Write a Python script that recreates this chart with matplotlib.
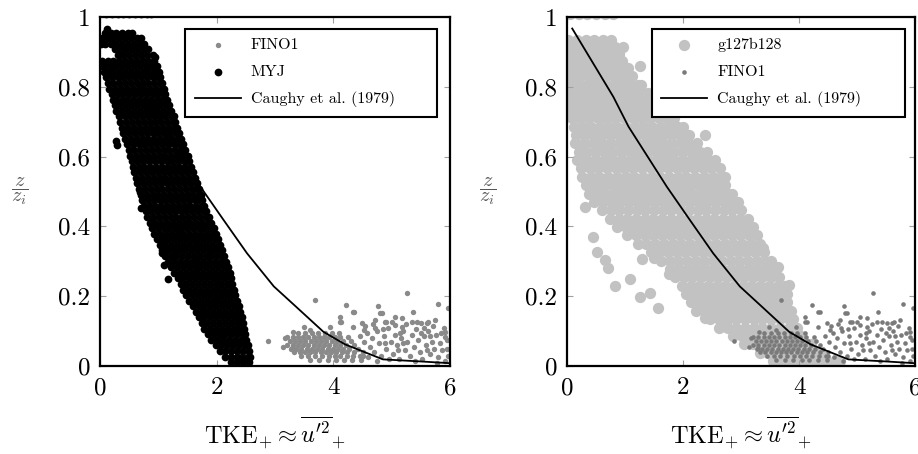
import matplotlib
matplotlib.use("Agg")
import matplotlib.pyplot as plt

# ---------------- data ----------------
x_ticks = [0, 2, 4, 6]
x_tick_labels = ["0", "2", "4", "6"]
y_ticks = [0, 0.2, 0.4, 0.6, 0.8, 1.0]
y_tick_labels = ["0", "0.2", "0.4", "0.6", "0.8", "1"]

# Caughy et al. (1979) reference profile
caughy_x = [0.09, 0.80, 1.06, 1.72, 2.12, 2.52, 2.98, 3.36, 3.83, 4.20, 4.85, 5.50, 6.00]
caughy_y = [0.967, 0.771, 0.686, 0.514, 0.418, 0.323, 0.228, 0.170, 0.098, 0.062, 0.019, 0.013, 0.008]

# FINO1 measurements: dense core (rows of equal height) + scattered points
fino1_core_rows = [
    (0.094, [3.40, 3.52, 3.63, 3.74, 3.86, 3.97, 4.10]),
    (0.083, [3.20, 3.30, 3.39, 3.48, 3.57, 3.66, 3.75, 3.84, 3.93, 4.02, 4.12, 4.25]),
    (0.072, [3.25, 3.34, 3.43, 3.52, 3.61, 3.70, 3.79, 3.88, 3.97, 4.06, 4.16, 4.30]),
    (0.061, [3.21, 3.30, 3.39, 3.48, 3.57, 3.66, 3.75, 3.84, 3.93, 4.02, 4.11, 4.21, 4.36]),
    (0.050, [3.27, 3.36, 3.45, 3.54, 3.63, 3.72, 3.81, 3.90, 3.99, 4.08, 4.17, 4.27, 4.42]),
    (0.039, [3.33, 3.42, 3.51, 3.60, 3.69, 3.78, 3.87, 3.96, 4.05, 4.14, 4.24, 4.36, 4.50]),
    (0.028, [3.45, 3.57, 3.68, 3.80, 3.92, 4.02, 4.12, 4.23, 4.34, 4.46]),
    (0.018, [3.60, 3.75, 3.90, 4.05, 4.18, 4.32, 4.48]),
]
fino1_points = [
    (2.88, 0.072), (3.69, 0.189), (4.22, 0.175), (5.27, 0.208), (4.33, 0.156), (4.77, 0.172),
    (4.80, 0.151), (5.80, 0.177), (5.37, 0.156), (4.11, 0.141), (4.11, 0.127), (4.49, 0.122),
    (4.71, 0.132), (4.91, 0.127), (5.06, 0.141), (5.17, 0.113), (5.43, 0.127), (5.60, 0.122),
    (5.74, 0.132), (5.91, 0.098), (5.97, 0.165), (4.36, 0.156), (4.83, 0.151), (5.17, 0.137),
    (5.51, 0.122), (5.63, 0.127), (4.13, 0.127), (4.33, 0.113), (4.53, 0.103), (5.05, 0.118),
    (4.88, 0.127), (3.31, 0.098), (3.49, 0.113), (3.60, 0.103), (3.94, 0.113), (3.97, 0.089),
    (3.17, 0.079), (3.14, 0.055), (3.29, 0.051), (5.91, 0.084), (5.95, 0.050),
    (4.45, 0.085), (4.52, 0.070), (4.58, 0.095), (4.62, 0.055), (4.66, 0.080), (4.70, 0.040),
    (4.74, 0.100), (4.78, 0.065), (4.82, 0.030), (4.86, 0.085), (4.90, 0.050), (4.94, 0.110),
    (4.98, 0.070), (5.02, 0.035), (5.05, 0.090), (5.09, 0.060), (5.13, 0.020), (5.16, 0.080),
    (5.20, 0.100), (5.23, 0.045), (5.27, 0.070), (5.31, 0.030), (5.34, 0.090), (5.38, 0.055),
    (5.42, 0.105), (5.45, 0.075), (5.49, 0.040), (5.52, 0.020), (5.55, 0.085), (5.58, 0.060),
    (5.62, 0.100), (5.65, 0.035), (5.69, 0.070), (5.72, 0.050), (5.76, 0.090), (5.80, 0.025),
    (5.83, 0.065), (5.87, 0.045), (5.90, 0.110), (5.94, 0.075), (5.97, 0.030), (4.55, 0.115),
    (4.68, 0.120), (4.85, 0.105), (5.00, 0.125), (5.25, 0.120), (5.50, 0.095), (5.70, 0.115),
    (5.85, 0.095), (4.60, 0.025), (4.75, 0.015), (4.95, 0.020), (5.10, 0.045), (5.40, 0.015),
    (5.60, 0.045), (5.78, 0.010), (5.92, 0.015), (4.50, 0.030), (4.88, 0.065), (5.20, 0.065),
    (5.55, 0.110), (5.35, 0.125), (5.15, 0.095), (4.72, 0.110), (5.65, 0.085),
]

# MYJ model cloud (dense band), rows of (z/zi, [TKE values])
myj_rows = [
    (1.008, [0.10, 0.20, 0.30, 0.40, 0.50, 0.60, 0.70, 0.80, 0.87]),
    (0.955, [0.08, 0.18, 0.28, 0.38, 0.48, 0.55]),
    (0.939, [0.03, 0.13, 0.23, 0.33, 0.43, 0.53, 0.63, 0.70]),
    (0.923, [0.02, 0.08, 0.18, 0.28, 0.38, 0.48, 0.58, 0.68, 0.76]),
    (0.907, [0.25, 0.35, 0.45, 0.55, 0.65, 0.75, 0.83]),
    (0.891, [0.30, 0.40, 0.50, 0.60, 0.70, 0.80, 0.90]),
    (0.875, [0.03, 0.13, 0.23, 0.33, 0.43, 0.53, 0.63, 0.73, 0.83, 0.93]),
    (0.859, [0.04, 0.08, 0.18, 0.28, 0.38, 0.48, 0.58, 0.68, 0.78, 0.88, 0.98]),
    (0.843, [0.07, 0.13, 0.23, 0.33, 0.43, 0.53, 0.63, 0.73, 0.83, 0.93, 1.01]),
    (0.827, [0.10, 0.20, 0.30, 0.40, 0.50, 0.60, 0.70, 0.80, 0.90, 1.00, 1.03]),
    (0.811, [0.13, 0.23, 0.33, 0.43, 0.53, 0.63, 0.73, 0.83, 0.93, 1.03, 1.06]),
    (0.795, [0.16, 0.26, 0.36, 0.46, 0.56, 0.66, 0.76, 0.86, 0.96, 1.06, 1.09]),
    (0.779, [0.20, 0.30, 0.40, 0.50, 0.60, 0.70, 0.80, 0.90, 1.00, 1.10, 1.12]),
    (0.763, [0.22, 0.27, 0.37, 0.47, 0.57, 0.67, 0.77, 0.87, 0.97, 1.07, 1.15]),
    (0.747, [0.25, 0.33, 0.43, 0.53, 0.63, 0.73, 0.83, 0.93, 1.03, 1.13, 1.19]),
    (0.731, [0.28, 0.38, 0.48, 0.58, 0.68, 0.78, 0.88, 0.98, 1.08, 1.18, 1.22]),
    (0.715, [0.32, 0.42, 0.52, 0.62, 0.72, 0.82, 0.92, 1.02, 1.12, 1.22, 1.26]),
    (0.699, [0.35, 0.45, 0.55, 0.65, 0.75, 0.85, 0.95, 1.05, 1.15, 1.25, 1.29]),
    (0.683, [0.38, 0.48, 0.58, 0.68, 0.78, 0.88, 0.98, 1.08, 1.18, 1.28, 1.32]),
    (0.667, [0.40, 0.50, 0.60, 0.70, 0.80, 0.90, 1.00, 1.10, 1.20, 1.30, 1.35]),
    (0.651, [0.43, 0.53, 0.63, 0.73, 0.83, 0.93, 1.03, 1.13, 1.23, 1.33, 1.38]),
    (0.635, [0.46, 0.56, 0.66, 0.76, 0.86, 0.96, 1.06, 1.16, 1.26, 1.36, 1.42]),
    (0.619, [0.49, 0.59, 0.69, 0.79, 0.89, 0.99, 1.09, 1.19, 1.29, 1.39, 1.46]),
    (0.603, [0.52, 0.62, 0.72, 0.82, 0.92, 1.02, 1.12, 1.22, 1.32, 1.42, 1.50]),
    (0.587, [0.54, 0.64, 0.74, 0.84, 0.94, 1.04, 1.14, 1.24, 1.34, 1.44, 1.53]),
    (0.571, [0.56, 0.66, 0.76, 0.86, 0.96, 1.06, 1.16, 1.26, 1.36, 1.46, 1.56]),
    (0.555, [0.59, 0.69, 0.79, 0.89, 0.99, 1.09, 1.19, 1.29, 1.39, 1.49, 1.60]),
    (0.539, [0.62, 0.72, 0.82, 0.92, 1.02, 1.12, 1.22, 1.32, 1.42, 1.52, 1.62]),
    (0.523, [0.64, 0.74, 0.84, 0.94, 1.04, 1.14, 1.24, 1.34, 1.44, 1.54, 1.64, 1.67]),
    (0.507, [0.67, 0.77, 0.87, 0.97, 1.07, 1.17, 1.27, 1.37, 1.47, 1.57, 1.67, 1.70]),
    (0.491, [0.70, 0.80, 0.90, 1.00, 1.10, 1.20, 1.30, 1.40, 1.50, 1.60, 1.70, 1.73]),
    (0.475, [0.72, 0.82, 0.92, 1.02, 1.12, 1.22, 1.32, 1.42, 1.52, 1.62, 1.72, 1.75]),
    (0.459, [0.75, 0.85, 0.95, 1.05, 1.15, 1.25, 1.35, 1.45, 1.55, 1.65, 1.75, 1.78]),
    (0.443, [0.78, 0.88, 0.98, 1.08, 1.18, 1.28, 1.38, 1.48, 1.58, 1.68, 1.78, 1.82]),
    (0.427, [0.81, 0.91, 1.01, 1.11, 1.21, 1.31, 1.41, 1.51, 1.61, 1.71, 1.81, 1.86]),
    (0.411, [0.85, 0.95, 1.05, 1.15, 1.25, 1.35, 1.45, 1.55, 1.65, 1.75, 1.85, 1.91]),
    (0.395, [0.89, 0.99, 1.09, 1.19, 1.29, 1.39, 1.49, 1.59, 1.69, 1.79, 1.89, 1.96]),
    (0.379, [0.93, 1.03, 1.13, 1.23, 1.33, 1.43, 1.53, 1.63, 1.73, 1.83, 1.93, 1.99]),
    (0.363, [0.97, 1.07, 1.17, 1.27, 1.37, 1.47, 1.57, 1.67, 1.77, 1.87, 1.97, 2.02]),
    (0.347, [1.02, 1.12, 1.22, 1.32, 1.42, 1.52, 1.62, 1.72, 1.82, 1.92, 2.02, 2.06]),
    (0.331, [1.06, 1.16, 1.26, 1.36, 1.46, 1.56, 1.66, 1.76, 1.86, 1.96, 2.06, 2.09]),
    (0.315, [1.11, 1.21, 1.31, 1.41, 1.51, 1.61, 1.71, 1.81, 1.91, 2.01, 2.11, 2.13]),
    (0.299, [1.17, 1.27, 1.37, 1.47, 1.57, 1.67, 1.77, 1.87, 1.97, 2.07, 2.16]),
    (0.283, [1.22, 1.32, 1.42, 1.52, 1.62, 1.72, 1.82, 1.92, 2.02, 2.12, 2.19]),
    (0.267, [1.27, 1.37, 1.47, 1.57, 1.67, 1.77, 1.87, 1.97, 2.07, 2.17, 2.22]),
    (0.251, [1.33, 1.43, 1.53, 1.63, 1.73, 1.83, 1.93, 2.03, 2.13, 2.23, 2.25]),
    (0.235, [1.38, 1.48, 1.58, 1.68, 1.78, 1.88, 1.98, 2.08, 2.18, 2.27]),
    (0.219, [1.43, 1.53, 1.63, 1.73, 1.83, 1.93, 2.03, 2.13, 2.23, 2.30]),
    (0.203, [1.48, 1.58, 1.68, 1.78, 1.88, 1.98, 2.08, 2.18, 2.28, 2.32]),
    (0.187, [1.53, 1.63, 1.73, 1.83, 1.93, 2.03, 2.13, 2.23, 2.33, 2.35]),
    (0.171, [1.59, 1.69, 1.79, 1.89, 1.99, 2.09, 2.19, 2.29, 2.38]),
    (0.155, [1.64, 1.74, 1.84, 1.94, 2.04, 2.14, 2.24, 2.34, 2.40]),
    (0.139, [1.69, 1.79, 1.89, 1.99, 2.09, 2.19, 2.29, 2.39, 2.43]),
    (0.123, [1.74, 1.84, 1.94, 2.04, 2.14, 2.24, 2.34, 2.44, 2.45]),
    (0.107, [1.79, 1.89, 1.99, 2.09, 2.19, 2.29, 2.39, 2.47]),
    (0.091, [1.85, 1.95, 2.05, 2.15, 2.25, 2.35, 2.45, 2.49]),
    (0.075, [1.91, 2.01, 2.11, 2.21, 2.31, 2.41, 2.51]),
    (0.059, [1.98, 2.08, 2.18, 2.28, 2.38, 2.48, 2.53]),
    (0.043, [2.05, 2.15, 2.25, 2.35, 2.45, 2.55]),
    (0.027, [2.14, 2.24, 2.34, 2.44, 2.54, 2.57]),
    (0.011, [2.25, 2.35, 2.45, 2.55]),
]
myj_points = [
    (0.12, 0.965), (0.15, 0.950), (0.29, 0.633), (0.28, 0.645), (0.69, 0.500), (0.71, 0.452),
    (1.06, 0.366), (1.07, 0.323), (1.10, 0.289), (1.17, 0.248), (0.95, 0.885),
]

# g127b128 LES cloud (light grey band)
g127_rows = [
    (1.010, [0.05, 0.20, 0.35, 0.50, 0.65, 0.80]),
    (0.935, [0.02, 0.17, 0.32, 0.47, 0.62, 0.75]),
    (0.915, [0.08, 0.23, 0.38, 0.53, 0.68, 0.83, 0.97]),
    (0.895, [0.02, 0.17, 0.32, 0.47, 0.62, 0.77, 0.90]),
    (0.875, [0.08, 0.23, 0.38, 0.53, 0.68, 0.83, 0.95]),
    (0.854, [0.02, 0.17, 0.32, 0.47, 0.62, 0.77, 0.92, 1.05]),
    (0.830, [0.08, 0.23, 0.38, 0.53, 0.68, 0.83, 0.98, 1.12]),
    (0.806, [0.02, 0.17, 0.32, 0.47, 0.62, 0.77, 0.92, 1.07, 1.22, 1.28]),
    (0.782, [0.05, 0.20, 0.35, 0.50, 0.65, 0.80, 0.95, 1.10, 1.25, 1.40]),
    (0.758, [0.02, 0.13, 0.28, 0.43, 0.58, 0.73, 0.88, 1.03, 1.18, 1.33, 1.48, 1.60]),
    (0.734, [0.05, 0.20, 0.35, 0.50, 0.65, 0.80, 0.95, 1.10, 1.25, 1.40, 1.55, 1.70]),
    (0.710, [0.08, 0.23, 0.38, 0.53, 0.68, 0.83, 0.98, 1.13, 1.28, 1.43, 1.58, 1.73, 1.85]),
    (0.686, [0.12, 0.27, 0.42, 0.57, 0.72, 0.87, 1.02, 1.17, 1.32, 1.47, 1.62, 1.77, 1.92, 2.00]),
    (0.662, [0.16, 0.31, 0.46, 0.61, 0.76, 0.91, 1.06, 1.21, 1.36, 1.51, 1.66, 1.81, 1.96, 2.10]),
    (0.638, [0.14, 0.29, 0.44, 0.59, 0.74, 0.89, 1.04, 1.19, 1.34, 1.49, 1.64, 1.79, 1.94, 2.09, 2.24]),
    (0.614, [0.20, 0.35, 0.50, 0.65, 0.80, 0.95, 1.10, 1.25, 1.40, 1.55, 1.70, 1.85, 2.00, 2.15, 2.30, 2.42]),
    (0.590, [0.18, 0.33, 0.48, 0.63, 0.78, 0.93, 1.08, 1.23, 1.38, 1.53, 1.68, 1.83, 1.98, 2.13, 2.28, 2.43, 2.56]),
    (0.566, [0.24, 0.39, 0.54, 0.69, 0.84, 0.99, 1.14, 1.29, 1.44, 1.59, 1.74, 1.89, 2.04, 2.19, 2.34, 2.49, 2.64]),
    (0.542, [0.26, 0.41, 0.56, 0.71, 0.86, 1.01, 1.16, 1.31, 1.46, 1.61, 1.76, 1.91, 2.06, 2.21, 2.36, 2.51, 2.66, 2.72]),
    (0.518, [0.32, 0.47, 0.62, 0.77, 0.92, 1.07, 1.22, 1.37, 1.52, 1.67, 1.82, 1.97, 2.12, 2.27, 2.42, 2.57, 2.72]),
    (0.494, [0.38, 0.53, 0.68, 0.83, 0.98, 1.13, 1.28, 1.43, 1.58, 1.73, 1.88, 2.03, 2.18, 2.33, 2.48, 2.63, 2.78, 2.85]),
    (0.470, [0.47, 0.62, 0.77, 0.92, 1.07, 1.22, 1.37, 1.52, 1.67, 1.82, 1.97, 2.12, 2.27, 2.42, 2.57, 2.72, 2.87, 2.95]),
    (0.446, [0.60, 0.75, 0.90, 1.05, 1.20, 1.35, 1.50, 1.65, 1.80, 1.95, 2.10, 2.25, 2.40, 2.55, 2.70, 2.85, 3.00]),
    (0.422, [0.74, 0.89, 1.04, 1.19, 1.34, 1.49, 1.64, 1.79, 1.94, 2.09, 2.24, 2.39, 2.54, 2.69, 2.84, 2.99, 3.12]),
    (0.398, [0.86, 1.01, 1.16, 1.31, 1.46, 1.61, 1.76, 1.91, 2.06, 2.21, 2.36, 2.51, 2.66, 2.81, 2.96, 3.11, 3.20]),
    (0.374, [1.04, 1.19, 1.34, 1.49, 1.64, 1.79, 1.94, 2.09, 2.24, 2.39, 2.54, 2.69, 2.84, 2.99, 3.14, 3.27]),
    (0.350, [1.22, 1.37, 1.52, 1.67, 1.82, 1.97, 2.12, 2.27, 2.42, 2.57, 2.72, 2.87, 3.02, 3.17, 3.32]),
    (0.326, [1.44, 1.59, 1.74, 1.89, 2.04, 2.19, 2.34, 2.49, 2.64, 2.79, 2.94, 3.09, 3.24, 3.39]),
    (0.302, [1.62, 1.77, 1.92, 2.07, 2.22, 2.37, 2.52, 2.67, 2.82, 2.97, 3.12, 3.27, 3.42, 3.52]),
    (0.278, [1.78, 1.93, 2.08, 2.23, 2.38, 2.53, 2.68, 2.83, 2.98, 3.13, 3.28, 3.43, 3.58]),
    (0.254, [1.86, 2.01, 2.16, 2.31, 2.46, 2.61, 2.76, 2.91, 3.06, 3.21, 3.36, 3.51, 3.66]),
    (0.230, [1.98, 2.13, 2.28, 2.43, 2.58, 2.73, 2.88, 3.03, 3.18, 3.33, 3.48, 3.63, 3.75]),
    (0.206, [2.06, 2.21, 2.36, 2.51, 2.66, 2.81, 2.96, 3.11, 3.26, 3.41, 3.56, 3.71, 3.80]),
    (0.182, [2.14, 2.29, 2.44, 2.59, 2.74, 2.89, 3.04, 3.19, 3.34, 3.49, 3.64, 3.79]),
    (0.158, [2.22, 2.37, 2.52, 2.67, 2.82, 2.97, 3.12, 3.27, 3.42, 3.57, 3.72, 3.86]),
    (0.134, [2.47, 2.62, 2.77, 2.92, 3.07, 3.22, 3.37, 3.52, 3.67, 3.82, 3.90]),
    (0.110, [2.62, 2.77, 2.92, 3.07, 3.22, 3.37, 3.52, 3.67, 3.82, 3.96]),
    (0.086, [2.86, 3.01, 3.16, 3.31, 3.46, 3.61, 3.76, 3.91, 4.04]),
    (0.062, [3.06, 3.21, 3.36, 3.51, 3.66, 3.81, 3.96, 4.11, 4.20]),
    (0.038, [3.32, 3.47, 3.62, 3.77, 3.92, 4.07, 4.22, 4.37]),
    (0.014, [3.56, 3.71, 3.86, 4.01, 4.16, 4.31, 4.46, 4.62, 4.70]),
]
g127_points = [
    (1.25, 0.860), (2.38, 0.662), (0.31, 0.456), (0.45, 0.369), (0.51, 0.327), (0.66, 0.304),
    (0.71, 0.280), (0.83, 0.229), (1.09, 0.248), (1.25, 0.199), (1.43, 0.210), (1.57, 0.167),
    (1.29, 0.307), (1.50, 0.309), (1.75, 0.264), (2.38, 0.138), (2.74, 0.113), (3.38, 0.337),
    (3.64, 0.285), (3.82, 0.232), (4.67, 0.000),
]


def unpack(rows, points):
    xs, ys = [], []
    for yv, row in rows:
        xs.extend(row)
        ys.extend([yv] * len(row))
    for xv, yv in points:
        xs.append(xv)
        ys.append(yv)
    return xs, ys


fino_x, fino_y = unpack(fino1_core_rows, fino1_points)
myj_x, myj_y = unpack(myj_rows, myj_points)
g127_x, g127_y = unpack(g127_rows, g127_points)

# ---------------- style ----------------
plt.rcParams["font.family"] = ["cmr10", "DejaVu Serif"]
plt.rcParams["mathtext.fontset"] = "cm"
plt.rcParams["axes.unicode_minus"] = False
plt.rcParams["axes.formatter.use_mathtext"] = True

fig = plt.figure(figsize=(9.18, 4.54), dpi=100)
ax1 = fig.add_axes([100 / 918, 88 / 454, 350 / 918, 349 / 454])
ax2 = fig.add_axes([567 / 918, 88 / 454, 348 / 918, 349 / 454])

FINO_L = "#8a8a8a"
FINO_R = "#7a7a7a"
G127 = "#c2c2c2"

# left panel
ax1.scatter(fino_x, fino_y, s=15, c=FINO_L, linewidths=0, label="FINO1", zorder=1)
ax1.scatter(myj_x, myj_y, s=31, c="black", linewidths=0, label="MYJ", zorder=1.1)
ax1.plot(caughy_x, caughy_y, color="black", lw=1.3, label="Caughy et al. (1979)", zorder=2)

# right panel
ax2.scatter(g127_x, g127_y, s=66, c=G127, linewidths=0, label="g127b128", zorder=1)
ax2.scatter(fino_x, fino_y, s=11, c=FINO_R, linewidths=0, label="FINO1", zorder=1.1)
ax2.plot(caughy_x, caughy_y, color="black", lw=1.3, label="Caughy et al. (1979)", zorder=2)

for ax, x0, w in ((ax1, 0.243, 0.721), (ax2, 0.243, 0.728)):
    ax.set_xlim(0, 6)
    ax.set_ylim(0, 1)
    ax.set_xticks(x_ticks)
    ax.set_xticklabels(x_tick_labels)
    ax.set_yticks(y_ticks)
    ax.set_yticklabels(y_tick_labels)
    ax.tick_params(direction="in", length=4, width=0.8, color="#a0a0a0",
                   top=True, right=True, labelsize=18)
    ax.tick_params(axis="y", pad=7)
    ax.tick_params(axis="x", pad=8)
    for sp in ax.spines.values():
        sp.set_linewidth(1.6)
        sp.set_zorder(3)
    ax.text(0.5, -0.19, r"$\mathrm{TKE}_{+} \approx \overline{u^{\prime 2}}_{+}$",
            transform=ax.transAxes, ha="center", va="center", fontsize=17.5)
    ax.text(-0.228, 0.50, r"$\dfrac{z}{z_i}$", transform=ax.transAxes,
            ha="center", va="center", fontsize=14.5, color="#555555")
    leg = ax.legend(loc="upper left", bbox_to_anchor=(x0, 0.5, w, 0.467), mode="expand",
                    borderaxespad=0, fontsize=11.5, frameon=True, fancybox=False,
                    framealpha=1, edgecolor="black", borderpad=0.6, labelspacing=0.78,
                    handlelength=2.9, handletextpad=0.6, scatterpoints=1)
    leg.get_frame().set_linewidth(1.5)
    leg.set_zorder(5)

fig.savefig("out.png", dpi=100)
